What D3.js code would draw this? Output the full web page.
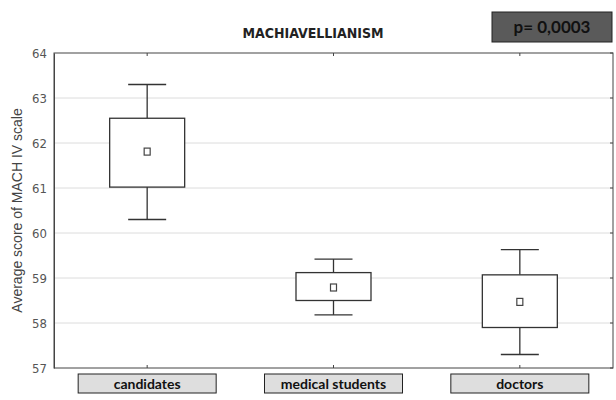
<!DOCTYPE html>
<html lang="en">
<head>
<meta charset="utf-8">
<title>Machiavellianism</title>
<script src="https://d3js.org/d3.v7.min.js"></script>
<style>
  body { margin: 0; background: #fff; }
  .narrow { font-family: "Liberation Sans Narrow", "Arial Narrow", "DejaVu Sans Condensed", sans-serif; }
</style>
</head>
<body>
<div id="vis"></div>
<script>
// data
var groups = ["candidates", "medical students", "doctors"];
var whiskerHigh = [63.3, 59.42, 59.63];
var boxHigh     = [62.55, 59.12, 59.07];
var means       = [61.82, 58.8, 58.48];
var boxLow      = [61.02, 58.5, 57.9];
var whiskerLow  = [60.3, 58.18, 57.3];
var yTicks = [57, 58, 59, 60, 61, 62, 63, 64];

var width = 616, height = 400;
var margin = {left: 54, right: 3, top: 53, bottom: 32};

var svg = d3.select("#vis").append("svg")
  .attr("width", width)
  .attr("height", height);

var x = d3.scalePoint()
  .domain(groups)
  .range([margin.left, width - margin.right])
  .padding(0.5);

var y = d3.scaleLinear()
  .domain([57, 64])
  .range([height - margin.bottom, margin.top]);

var x0 = margin.left, x1 = width - margin.right;
var y0 = y(57), y1 = y(64);

// grid lines
svg.append("g").selectAll("line")
  .data(yTicks.filter(function(d){ return d > 57 && d < 64; }))
  .enter().append("line")
  .attr("x1", x0).attr("x2", x1)
  .attr("y1", function(d){ return y(d); })
  .attr("y2", function(d){ return y(d); })
  .attr("stroke", "#dcdcdc")
  .attr("stroke-width", 1);

// frame
svg.append("rect")
  .attr("x", x0).attr("y", y1)
  .attr("width", x1 - x0).attr("height", y0 - y1)
  .attr("fill", "none")
  .attr("stroke", "#444")
  .attr("stroke-width", 1);

// left axis
var yAxis = d3.axisLeft(y).tickValues(yTicks).tickFormat(d3.format("d")).tickSize(0).tickPadding(7);
var ga = svg.append("g")
  .attr("transform", "translate(" + x0 + ",0)")
  .call(yAxis);
ga.select(".domain").attr("stroke", "#444");
ga.selectAll("text")
  .attr("class", "narrow")
  .style("font-size", "13px")
  .attr("fill", "#555");

// right tick marks
svg.append("g").selectAll("line")
  .data(yTicks).enter().append("line")
  .attr("x1", x1 - 3).attr("x2", x1)
  .attr("y1", function(d){ return y(d); })
  .attr("y2", function(d){ return y(d); })
  .attr("stroke", "#444");

// top & bottom category ticks
groups.forEach(function(g) {
  svg.append("line").attr("x1", x(g)).attr("x2", x(g))
    .attr("y1", y1).attr("y2", y1 + 3).attr("stroke", "#444");
  svg.append("line").attr("x1", x(g)).attr("x2", x(g))
    .attr("y1", y0 - 3).attr("y2", y0).attr("stroke", "#444");
});

// boxes
var boxW = 75, capW = 38;
var bx = svg.append("g");
groups.forEach(function(g, i) {
  var cx = x(g);
  bx.append("line")
    .attr("x1", cx).attr("x2", cx)
    .attr("y1", y(whiskerHigh[i])).attr("y2", y(boxHigh[i]))
    .attr("stroke", "#333").attr("stroke-width", 1.3);
  bx.append("line")
    .attr("x1", cx).attr("x2", cx)
    .attr("y1", y(boxLow[i])).attr("y2", y(whiskerLow[i]))
    .attr("stroke", "#333").attr("stroke-width", 1.3);
  [whiskerHigh[i], whiskerLow[i]].forEach(function(v) {
    bx.append("line")
      .attr("x1", cx - capW / 2).attr("x2", cx + capW / 2)
      .attr("y1", y(v)).attr("y2", y(v))
      .attr("stroke", "#333").attr("stroke-width", 1.3);
  });
  bx.append("rect")
    .attr("x", cx - boxW / 2).attr("y", y(boxHigh[i]))
    .attr("width", boxW).attr("height", y(boxLow[i]) - y(boxHigh[i]))
    .attr("fill", "#fff").attr("stroke", "#333").attr("stroke-width", 1.3);
  bx.append("rect")
    .attr("x", cx - 3).attr("y", y(means[i]) - 3)
    .attr("width", 6).attr("height", 7)
    .attr("fill", "#fff").attr("stroke", "#444").attr("stroke-width", 1.2);
});

// category label boxes
var lab = svg.append("g");
groups.forEach(function(g) {
  var cx = x(g);
  lab.append("rect")
    .attr("x", cx - 69).attr("y", y0 + 6)
    .attr("width", 138).attr("height", 19)
    .attr("fill", "#dedede").attr("stroke", "#222").attr("stroke-width", 1);
  lab.append("text")
    .attr("x", cx).attr("y", y0 + 20.5)
    .attr("text-anchor", "middle")
    .style("font-family", "Lato, 'Open Sans', sans-serif")
    .style("font-weight", "bold")
    .style("font-size", "14px")
    .attr("fill", "#111")
    .text(g);
});

// title
svg.append("text")
  .attr("class", "narrow")
  .attr("x", 313).attr("y", 38)
  .attr("text-anchor", "middle")
  .style("font-weight", "bold")
  .style("font-size", "14px")
  .attr("fill", "#222")
  .text("MACHIAVELLIANISM");

// p-value box
svg.append("rect")
  .attr("x", 492).attr("y", 12)
  .attr("width", 120).attr("height", 30)
  .attr("fill", "#5a5a5a").attr("stroke", "#222");
svg.append("text")
  .attr("x", 552).attr("y", 33)
  .attr("text-anchor", "middle")
  .style("font-family", "Lato, 'Open Sans', sans-serif")
  .style("font-weight", "bold")
  .style("font-size", "17px")
  .attr("fill", "#111")
  .text("p= 0,0003");

// y axis title
svg.append("text")
  .attr("transform", "translate(22," + ((y0 + y1) / 2) + ") rotate(-90)")
  .attr("text-anchor", "middle")
  .style("font-family", "'Liberation Sans', Arial, sans-serif")
  .style("font-size", "14px")
  .attr("fill", "#444")
  .text("Average score of MACH IV scale");
</script>
</body>
</html>
